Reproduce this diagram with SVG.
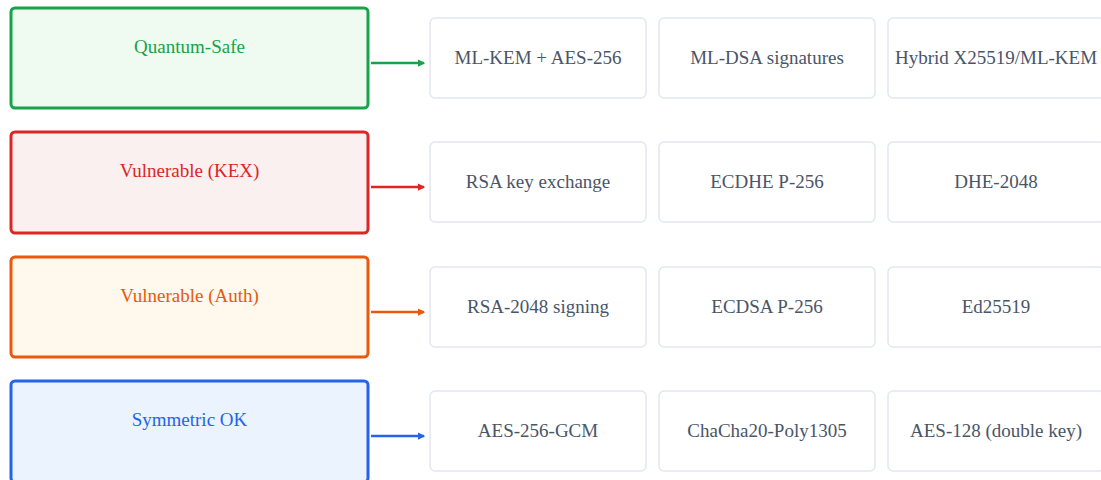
<svg xmlns="http://www.w3.org/2000/svg" width="1101" height="480" viewBox="0 0 1101 480">
<defs>
<style>
.cat{stroke-width:3}
.lbl{font-family:'Liberation Serif','DejaVu Serif','Times New Roman',Times,serif;font-size:19px;text-anchor:middle}
.item rect{fill:#ffffff;stroke:#e2e8f0;stroke-width:1.5}
.item text{font-family:'Liberation Serif','DejaVu Serif','Times New Roman',Times,serif;font-size:19px;text-anchor:middle;fill:#4a5568}
.conn{stroke-width:2.5;fill:none}
</style>
<marker id="ag" viewBox="0 0 6 6" refX="5" refY="3" markerWidth="3" markerHeight="3" orient="auto"><path d="M0,0 L6,3 L0,6 Z" fill="#16a34a"/></marker>
<marker id="ar" viewBox="0 0 6 6" refX="5" refY="3" markerWidth="3" markerHeight="3" orient="auto"><path d="M0,0 L6,3 L0,6 Z" fill="#dc2626"/></marker>
<marker id="ao" viewBox="0 0 6 6" refX="5" refY="3" markerWidth="3" markerHeight="3" orient="auto"><path d="M0,0 L6,3 L0,6 Z" fill="#ea580c"/></marker>
<marker id="ab" viewBox="0 0 6 6" refX="5" refY="3" markerWidth="3" markerHeight="3" orient="auto"><path d="M0,0 L6,3 L0,6 Z" fill="#2563eb"/></marker>
</defs>
<rect width="1101" height="480" fill="#ffffff"/>

<g id="cat-qs"><rect class="cat" x="11" y="8" width="357" height="100" rx="4" fill="#effaf0" stroke="#16a34a"/><text class="lbl" x="189.5" y="53" fill="#16a34a">Quantum-Safe</text></g>
<g id="cat-kex"><rect class="cat" x="11" y="132" width="357" height="101" rx="4" fill="#faf0f0" stroke="#dc2626"/><text class="lbl" x="189.5" y="177" fill="#dc2626">Vulnerable (KEX)</text></g>
<g id="cat-auth"><rect class="cat" x="11" y="257" width="357" height="100" rx="4" fill="#fff8ec" stroke="#ea580c"/><text class="lbl" x="189.5" y="302" fill="#ea580c">Vulnerable (Auth)</text></g>
<g id="cat-sym"><rect class="cat" x="11" y="381" width="357" height="101" rx="4" fill="#eaf3fe" stroke="#2563eb"/><text class="lbl" x="189.5" y="426" fill="#2563eb">Symmetric OK</text></g>

<g id="connectors">
<line class="conn" x1="371" y1="63" x2="424" y2="63" stroke="#16a34a" marker-end="url(#ag)"/>
<line class="conn" x1="371" y1="187" x2="424" y2="187" stroke="#dc2626" marker-end="url(#ar)"/>
<line class="conn" x1="371" y1="312" x2="424" y2="312" stroke="#ea580c" marker-end="url(#ao)"/>
<line class="conn" x1="371" y1="436" x2="424" y2="436" stroke="#2563eb" marker-end="url(#ab)"/>
</g>

<g id="qs-1" class="item"><rect x="430" y="18" width="216" height="80" rx="5"/><text x="538" y="64">ML-KEM + AES-256</text></g>
<g id="qs-2" class="item"><rect x="659" y="18" width="216" height="80" rx="5"/><text x="767" y="64">ML-DSA signatures</text></g>
<g id="qs-3" class="item"><rect x="888" y="18" width="216" height="80" rx="5"/><text x="996" y="64">Hybrid X25519/ML-KEM</text></g>

<g id="kex-1" class="item"><rect x="430" y="142" width="216" height="80" rx="5"/><text x="538" y="188">RSA key exchange</text></g>
<g id="kex-2" class="item"><rect x="659" y="142" width="216" height="80" rx="5"/><text x="767" y="188">ECDHE P-256</text></g>
<g id="kex-3" class="item"><rect x="888" y="142" width="216" height="80" rx="5"/><text x="996" y="188">DHE-2048</text></g>

<g id="auth-1" class="item"><rect x="430" y="267" width="216" height="80" rx="5"/><text x="538" y="313">RSA-2048 signing</text></g>
<g id="auth-2" class="item"><rect x="659" y="267" width="216" height="80" rx="5"/><text x="767" y="313">ECDSA P-256</text></g>
<g id="auth-3" class="item"><rect x="888" y="267" width="216" height="80" rx="5"/><text x="996" y="313">Ed25519</text></g>

<g id="sym-1" class="item"><rect x="430" y="391" width="216" height="80" rx="5"/><text x="538" y="437">AES-256-GCM</text></g>
<g id="sym-2" class="item"><rect x="659" y="391" width="216" height="80" rx="5"/><text x="767" y="437">ChaCha20-Poly1305</text></g>
<g id="sym-3" class="item"><rect x="888" y="391" width="216" height="80" rx="5"/><text x="996" y="437">AES-128 (double key)</text></g>
</svg>
